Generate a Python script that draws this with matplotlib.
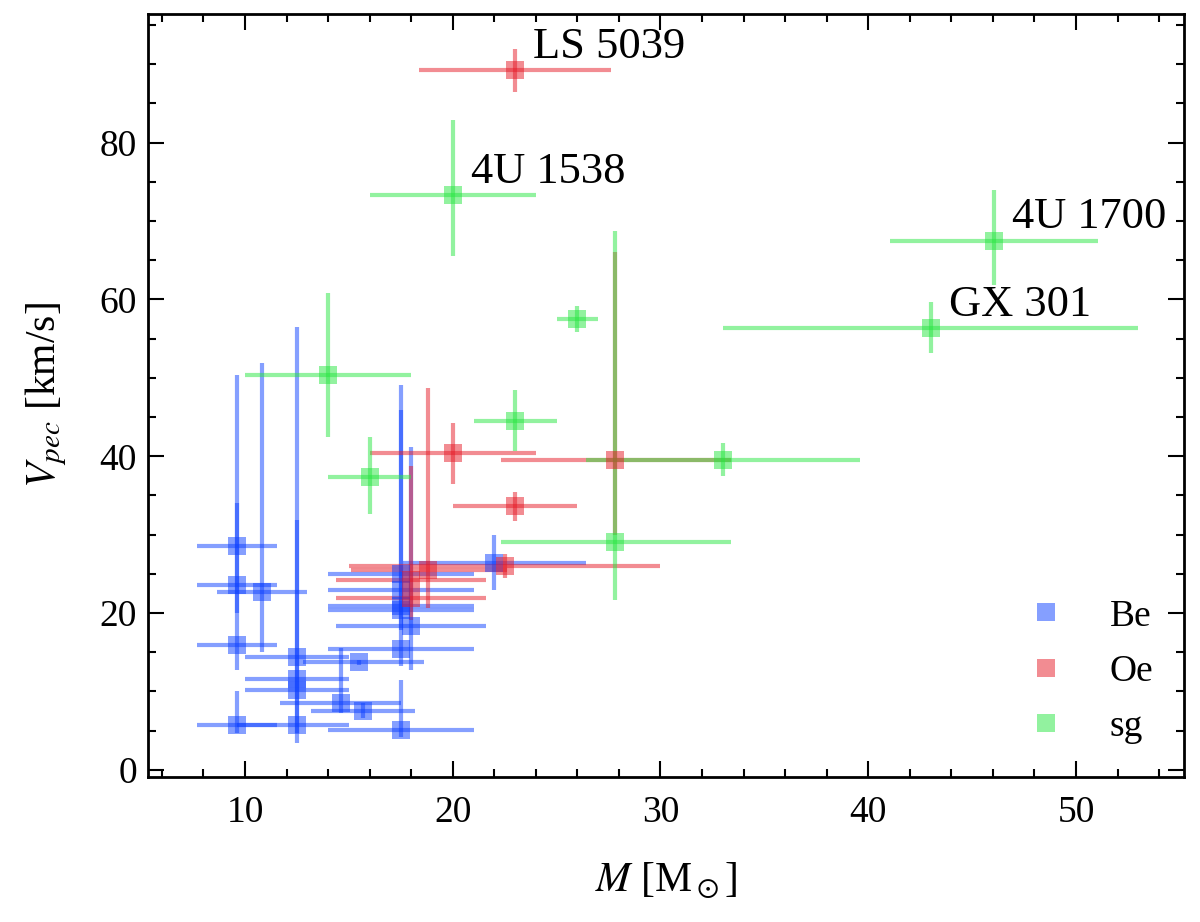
import matplotlib
matplotlib.use("Agg")
import matplotlib.pyplot as plt
from matplotlib.lines import Line2D

plt.rcParams['font.family'] = ['Liberation Serif', 'DejaVu Serif']
plt.rcParams['mathtext.fontset'] = 'stix'
plt.rcParams['font.size'] = 27

# Be stars: mass, mass errors (minus, plus), peculiar velocity, velocity errors
be_m = [9.6, 9.6, 9.6, 9.6, 10.8, 12.5, 12.5, 12.5, 12.5, 14.6,
        15.7, 15.5, 17.5, 17.5, 17.5, 17.5, 17.5, 17.5, 18.0, 22.0]
be_m_lo = [1.9, 1.9, 1.9, 1.9, 2.15, 2.5, 2.5, 2.5, 2.9, 2.9,
           2.5, 2.7, 3.5, 3.5, 3.5, 3.5, 3.5, 3.5, 3.6, 4.4]
be_m_hi = [1.95, 1.95, 1.95, 1.95, 2.2, 2.5, 2.5, 2.5, 2.5, 2.9,
           2.5, 3.1, 3.5, 3.5, 3.5, 3.5, 3.5, 3.5, 3.6, 4.4]
be_v = [28.5, 23.6, 15.9, 5.7, 22.7, 14.45, 11.6, 10.2, 5.7, 8.5,
        7.45, 13.7, 5.1, 15.4, 20.4, 20.9, 23.0, 25.0, 18.3, 26.4]
be_v_lo = [8.5, 10.9, 0, 1.0, 7.6, 0, 6.9, 0, 2.3, 1.3,
           0.85, 0.3, 0.9, 0, 7.2, 0, 0, 7.1, 5.5, 3.4]
be_v_hi = [5.5, 26.8, 0, 4.3, 29.2, 0, 20.3, 0, 50.8, 7.0,
           1.05, 0.3, 6.4, 0, 28.7, 0, 0, 20.9, 22.9, 3.5]

# Oe stars
oe_m = [23.0, 20.0, 27.8, 23.0, 22.5, 18.8, 18.0, 18.0]
oe_m_lo = [4.6, 4.0, 5.5, 3.0, 7.5, 3.7, 3.6, 3.6]
oe_m_hi = [4.6, 4.0, 5.6, 3.0, 7.5, 3.8, 3.6, 3.6]
oe_v = [89.2, 40.4, 39.5, 33.6, 26.0, 25.5, 24.2, 21.9]
oe_v_lo = [2.7, 3.9, 9.5, 1.8, 1.5, 4.8, 0, 2.8]
oe_v_hi = [2.7, 3.8, 26.6, 1.8, 1.5, 23.2, 0, 16.8]

# supergiants
sg_m = [20.0, 46.05, 43.0, 26.0, 14.0, 16.0, 23.0, 33.0, 27.8]
sg_m_lo = [4.0, 5.0, 10.0, 1.0, 4.0, 2.0, 2.0, 6.6, 5.5]
sg_m_hi = [4.0, 5.0, 10.0, 1.0, 4.0, 2.0, 2.0, 6.6, 5.6]
sg_v = [73.3, 67.5, 56.3, 57.5, 50.3, 37.4, 44.55, 39.5, 29.1]
sg_v_lo = [7.8, 5.6, 3.15, 1.7, 7.8, 4.7, 3.85, 2.0, 7.4]
sg_v_hi = [9.6, 6.5, 3.35, 1.7, 10.5, 5.0, 3.95, 2.2, 39.6]

# named sources (label, group, index)
names = [("LS 5039", "oe", 0), ("4U 1538", "sg", 0),
         ("4U 1700", "sg", 1), ("GX 301", "sg", 2)]

groups = {
    "be": (be_m, be_m_lo, be_m_hi, be_v, be_v_lo, be_v_hi, (0.05, 0.25, 1.0), "Be"),
    "oe": (oe_m, oe_m_lo, oe_m_hi, oe_v, oe_v_lo, oe_v_hi, (0.9, 0.1, 0.15), "Oe"),
    "sg": (sg_m, sg_m_lo, sg_m_hi, sg_v, sg_v_lo, sg_v_hi, (0.15, 0.9, 0.25), "sg"),
}

fig = plt.figure(figsize=(12, 9.22), dpi=100)
ax = fig.add_axes([0.1233, 0.1573, 0.8634, 0.8275])

handles = []
for key in ["be", "oe", "sg"]:
    m, mlo, mhi, v, vlo, vhi, col, lab = groups[key]
    ax.errorbar(m, v, xerr=[mlo, mhi], yerr=[vlo, vhi], fmt='s', color=col,
                ms=12.5, mew=0, elinewidth=3, capsize=0, alpha=0.5)
    handles.append(Line2D([], [], ls='none', marker='s', ms=12.5, mew=0,
                          color=col, alpha=0.5, label=lab))

for lab, key, i in names:
    m, v = groups[key][0][i], groups[key][3][i]
    ax.annotate(lab, (m, v), xytext=(13, 9), textcoords='offset points',
                fontsize=32, va='baseline', ha='left')

ax.set_xlim(5.33, 55.2)
ax.set_ylim(-0.9, 96.4)
ax.set_xticks([10, 20, 30, 40, 50])
ax.set_xticks(range(6, 56, 2), minor=True)
ax.set_yticks([0, 20, 40, 60, 80])
ax.set_yticks(range(0, 96, 5), minor=True)

ax.tick_params(which='both', direction='in', top=True, right=True, width=1.5)
ax.tick_params(which='major', length=11.5)
ax.tick_params(which='minor', length=5.8)
ax.tick_params(axis='x', which='major', pad=13)
ax.tick_params(axis='y', which='major', pad=8)
for sp in ax.spines.values():
    sp.set_linewidth(2)

ax.set_xlabel(r"$M$ [M$_\odot$]", fontsize=30, labelpad=22)
ax.set_ylabel(r"$V_{pec}$ [km/s]", fontsize=30, labelpad=22)

ax.legend(handles=handles, loc='lower right', bbox_to_anchor=(0.992, 0.014),
          frameon=False, fontsize=27, handletextpad=1.1, labelspacing=0.55,
          borderaxespad=0.2, handlelength=1.2, borderpad=0.4)

fig.savefig("out.png", dpi=100)
